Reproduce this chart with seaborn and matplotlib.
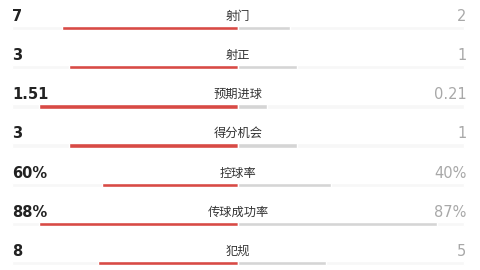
import matplotlib
matplotlib.use("Agg")
import matplotlib.pyplot as plt
import seaborn as sns
import pandas as pd

labels = ["射门", "射正", "预期进球", "得分机会", "控球率", "传球成功率", "犯规"]
left_text = ["7", "3", "1.51", "3", "60%", "88%", "8"]
right_text = ["2", "1", "0.21", "1", "40%", "87%", "5"]
left_share = [0.78, 0.75, 0.88, 0.75, 0.60, 0.88, 0.62]
right_share = [0.23, 0.26, 0.13, 0.26, 0.41, 0.88, 0.39]

sns.set_theme(style="white")
plt.rcParams["font.family"] = ["DejaVu Sans"]

fig = plt.figure(figsize=(4.8, 2.7), dpi=100)
ax = fig.add_axes([0, 0, 1, 1])

df = pd.DataFrame({"label": labels, "left": left_share, "right": right_share})
df["neg_left"] = -df["left"]
df["track_l"] = -1.0
df["track_r"] = 1.0

w = 0.11
sns.barplot(data=df, y="label", x="track_l", color="#f7f7f7", width=w, ax=ax, orient="h", saturation=1)
sns.barplot(data=df, y="label", x="track_r", color="#f7f7f7", width=w, ax=ax, orient="h", saturation=1)
sns.barplot(data=df, y="label", x="neg_left", color="#d84a45", width=w, ax=ax, orient="h", saturation=1)
sns.barplot(data=df, y="label", x="right", color="#d5d5d5", width=w, ax=ax, orient="h", saturation=1)

for i, (lab, lt, rt) in enumerate(zip(labels, left_text, right_text)):
    ty = i - 0.30
    ax.text(-1.0, ty, lt, ha="left", va="center", fontsize=10.5, fontweight="bold", color="#222222")
    ax.text(0.0, ty, lab, ha="center", va="center", fontsize=8.8, color="#333333",
            family=["Noto Sans CJK SC", "DejaVu Sans"])
    ax.text(1.01, ty, rt, ha="right", va="center", fontsize=10.5, color="#a8a8a8")

ax.set_xlim(-238 / 226, 242 / 226)
ax.set_ylim(242 / 39.2, -28 / 39.2)
ax.axis("off")
fig.savefig("out.png", dpi=100)
